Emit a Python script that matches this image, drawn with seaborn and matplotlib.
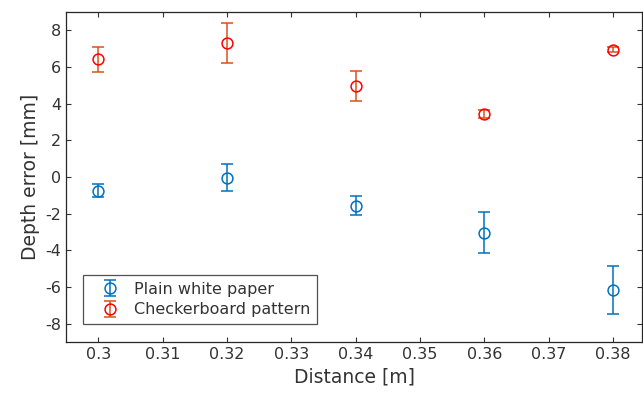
import numpy as np
import pandas as pd
import seaborn as sns
import matplotlib.pyplot as plt

# distances in metres
distance = [0.30, 0.32, 0.34, 0.36, 0.38]

# depth error (mm) and half-width of the error bars
plain_mean = [-0.75, -0.03, -1.57, -3.05, -6.18]
plain_err = [0.35, 0.72, 0.52, 1.12, 1.30]
checker_mean = [6.42, 7.32, 4.96, 3.43, 6.95]
checker_err = [0.68, 1.10, 0.80, 0.20, 0.15]

df = pd.DataFrame({
    "Distance": distance * 2,
    "Error": plain_mean + checker_mean,
    "Spread": plain_err + checker_err,
    "Surface": ["Plain white paper"] * 5 + ["Checkerboard pattern"] * 5,
})

sns.set_style("ticks")
plt.rcParams["font.family"] = ["DejaVu Sans"]
plt.rcParams["axes.unicode_minus"] = False
txt = "#333333"
plt.rcParams["text.color"] = txt
plt.rcParams["axes.labelcolor"] = txt
plt.rcParams["xtick.color"] = txt
plt.rcParams["ytick.color"] = txt

fig = plt.figure(figsize=(6.43, 3.95), dpi=100)
ax = fig.add_axes([66 / 643, 53 / 395, 576 / 643, 330 / 395])

# marker colour, bar colour
styles = {
    "Plain white paper": ("#0072BD", "#0072BD"),
    "Checkerboard pattern": ("#FF0000", "#D95319"),
}
for name, (mcol, ecol) in styles.items():
    sub = df[df["Surface"] == name]
    ax.errorbar(sub["Distance"], sub["Error"], yerr=sub["Spread"],
                fmt="o", mfc="none", mec=mcol, ms=7.8, mew=1.1,
                ecolor=ecol, elinewidth=1.1, capsize=4.3, capthick=1.1,
                label=name)

ax.set_xlim(0.295, 0.3845)
ax.set_ylim(-9, 9)
ax.set_xticks(np.arange(0.30, 0.381, 0.01))
ax.set_xticklabels(["0.3", "0.31", "0.32", "0.33", "0.34", "0.35", "0.36", "0.37", "0.38"])
ax.set_yticks(range(-8, 9, 2))
ax.tick_params(direction="in", top=True, right=True, labelsize=11.5,
               length=3.5, width=0.8)
for s in ax.spines.values():
    s.set_visible(True)
    s.set_color("#262626")
    s.set_linewidth(0.9)

ax.set_xlabel("Distance [m]", fontsize=13.5)
ax.set_ylabel("Depth error [mm]", fontsize=13.5)

leg = ax.legend(loc="lower left", bbox_to_anchor=(0.0295, 0.055), fontsize=11.5,
                frameon=True, fancybox=False, edgecolor="#262626",
                borderpad=0.4, handlelength=2.6, handletextpad=0.2,
                borderaxespad=0.0, labelspacing=0.35)
leg.get_frame().set_linewidth(0.9)

plt.savefig("out.png", dpi=100)
